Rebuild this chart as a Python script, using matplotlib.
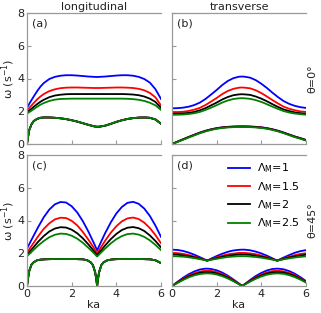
import matplotlib
matplotlib.use("Agg")
import matplotlib.pyplot as plt

# ---------------- data ----------------
labels = [r'$\Lambda_{\rm M}$=1', r'$\Lambda_{\rm M}$=1.5', r'$\Lambda_{\rm M}$=2', r'$\Lambda_{\rm M}$=2.5']
colors = ['#0000ff', '#ff0000', '#000000', '#008000']

# panel (a): longitudinal, theta = 0
ka_a = [0, 0.05, 0.1, 0.2, 0.3, 0.45, 0.6, 0.75, 1.0, 1.25, 1.5, 1.75, 2.0, 2.25, 2.5,
        2.75, 3.0, 3.14, 3.25, 3.5, 3.75, 4.0, 4.25, 4.5, 4.75, 5.0, 5.25, 5.5, 5.75, 6.0]
up_a_1 = [2.22, 2.33, 2.45, 2.68, 2.9, 3.22, 3.5, 3.72, 3.97, 4.1, 4.17, 4.2, 4.2, 4.18, 4.15,
          4.12, 4.1, 4.09, 4.1, 4.12, 4.15, 4.18, 4.2, 4.2, 4.17, 4.1, 3.97, 3.75, 3.35, 2.75]
up_a_15 = [2.05, 2.12, 2.2, 2.35, 2.5, 2.72, 2.9, 3.05, 3.23, 3.34, 3.41, 3.44, 3.45, 3.45, 3.44,
           3.43, 3.42, 3.42, 3.42, 3.43, 3.44, 3.45, 3.45, 3.44, 3.42, 3.37, 3.28, 3.12, 2.85, 2.35]
up_a_2 = [1.93, 1.98, 2.04, 2.15, 2.27, 2.43, 2.58, 2.7, 2.86, 2.96, 3.01, 3.04, 3.05, 3.05, 3.05,
          3.05, 3.05, 3.05, 3.05, 3.05, 3.05, 3.05, 3.05, 3.04, 3.02, 2.98, 2.9, 2.77, 2.57, 2.2]
up_a_25 = [1.86, 1.9, 1.95, 2.04, 2.13, 2.27, 2.4, 2.5, 2.63, 2.71, 2.75, 2.76, 2.77, 2.77, 2.77,
           2.77, 2.77, 2.77, 2.77, 2.77, 2.77, 2.77, 2.77, 2.76, 2.74, 2.7, 2.63, 2.52, 2.36, 2.08]
low_a = [0, 0.45, 0.85, 1.2, 1.4, 1.53, 1.6, 1.62, 1.62, 1.6, 1.57, 1.52, 1.45, 1.37, 1.27,
         1.17, 1.08, 1.05, 1.06, 1.12, 1.23, 1.35, 1.45, 1.53, 1.58, 1.61, 1.62, 1.6, 1.5, 1.24]

# panel (b): transverse, theta = 0
ka_b = [0, 0.25, 0.5, 0.75, 1.0, 1.25, 1.5, 1.75, 2.0, 2.25, 2.5, 2.75, 3.0, 3.14,
        3.25, 3.5, 3.75, 4.0, 4.25, 4.5, 4.75, 5.0, 5.25, 5.5, 5.75, 6.0]
up_b_1 = [2.18, 2.19, 2.22, 2.28, 2.38, 2.53, 2.75, 3.02, 3.3, 3.6, 3.85, 4.02, 4.11, 4.12,
          4.11, 4.05, 3.9, 3.68, 3.42, 3.13, 2.86, 2.62, 2.45, 2.33, 2.25, 2.2]
up_b_15 = [1.94, 1.95, 1.97, 2.02, 2.10, 2.21, 2.38, 2.59, 2.81, 3.05, 3.24, 3.37, 3.44, 3.45,
           3.44, 3.40, 3.28, 3.11, 2.90, 2.68, 2.47, 2.28, 2.15, 2.06, 1.99, 1.96]
up_b_2 = [1.84, 1.85, 1.87, 1.90, 1.96, 2.06, 2.19, 2.36, 2.53, 2.72, 2.87, 2.98, 3.03, 3.04,
          3.03, 3.0, 2.90, 2.77, 2.61, 2.43, 2.26, 2.11, 2.01, 1.93, 1.88, 1.85]
up_b_25 = [1.78, 1.79, 1.80, 1.83, 1.88, 1.96, 2.08, 2.22, 2.37, 2.53, 2.66, 2.75, 2.79, 2.80,
           2.79, 2.76, 2.68, 2.57, 2.43, 2.28, 2.14, 2.01, 1.92, 1.86, 1.82, 1.79]
low_b_1 = [0, 0.15, 0.29, 0.43, 0.57, 0.70, 0.81, 0.90, 0.97, 1.02, 1.05, 1.07, 1.08, 1.08,
           1.08, 1.07, 1.05, 1.02, 0.97, 0.90, 0.81, 0.70, 0.58, 0.46, 0.36, 0.25]
low_b_15 = [0, 0.15, 0.29, 0.43, 0.56, 0.69, 0.80, 0.89, 0.96, 1.01, 1.04, 1.06, 1.07, 1.07,
            1.07, 1.06, 1.04, 1.01, 0.96, 0.89, 0.80, 0.69, 0.57, 0.45, 0.35, 0.24]
low_b_2 = [0, 0.14, 0.28, 0.42, 0.55, 0.68, 0.79, 0.88, 0.95, 1.0, 1.03, 1.05, 1.06, 1.06,
           1.06, 1.05, 1.03, 1.0, 0.95, 0.88, 0.79, 0.68, 0.56, 0.44, 0.34, 0.23]
low_b_25 = [0, 0.13, 0.26, 0.40, 0.53, 0.66, 0.77, 0.86, 0.93, 0.98, 1.01, 1.03, 1.04, 1.04,
            1.04, 1.03, 1.01, 0.98, 0.93, 0.86, 0.77, 0.66, 0.54, 0.42, 0.32, 0.21]

# panel (c): longitudinal, theta = 45
ka_c = [0, 0.25, 0.5, 0.75, 1.0, 1.25, 1.5, 1.75, 2.0, 2.25, 2.5, 2.75, 3.0, 3.14,
        3.3, 3.5, 3.75, 4.0, 4.25, 4.5, 4.75, 5.0, 5.25, 5.5, 5.75, 6.0]
up_c_1 = [2.29, 2.95, 3.6, 4.2, 4.67, 4.99, 5.13, 5.1, 4.87, 4.49, 3.96, 3.32, 2.6, 2.18,
          2.65, 3.23, 3.88, 4.43, 4.83, 5.08, 5.14, 5.02, 4.73, 4.28, 3.69, 3.0]
up_c_15 = [2.05, 2.54, 3.04, 3.49, 3.83, 4.07, 4.17, 4.15, 3.98, 3.7, 3.3, 2.83, 2.31, 2.0,
           2.34, 2.77, 3.25, 3.65, 3.95, 4.13, 4.18, 4.09, 3.87, 3.54, 3.11, 2.61]
up_c_2 = [1.92, 2.3, 2.7, 3.05, 3.33, 3.51, 3.59, 3.57, 3.44, 3.22, 2.91, 2.54, 2.12, 1.88,
          2.15, 2.48, 2.86, 3.18, 3.42, 3.56, 3.6, 3.53, 3.36, 3.09, 2.75, 2.36]
up_c_25 = [1.82, 2.15, 2.47, 2.75, 2.98, 3.13, 3.2, 3.18, 3.07, 2.89, 2.64, 2.33, 2.0, 1.8,
           2.02, 2.29, 2.6, 2.86, 3.05, 3.17, 3.2, 3.14, 3.0, 2.79, 2.51, 2.19]
ka_c_low = [0, 0.05, 0.1, 0.2, 0.3, 0.45, 0.6, 0.8, 1.0, 1.5, 2.0, 2.5, 2.7, 2.85, 2.95,
            3.05, 3.1, 3.14, 3.18, 3.23, 3.33, 3.43, 3.6, 3.8, 4.0, 4.5, 5.0, 5.5, 5.75, 6.0]
low_c = [0, 0.5, 0.92, 1.3, 1.45, 1.57, 1.61, 1.63, 1.64, 1.65, 1.65, 1.63, 1.57, 1.45, 1.28,
         0.85, 0.45, 0.0, 0.45, 0.85, 1.28, 1.45, 1.57, 1.62, 1.64, 1.65, 1.65, 1.63, 1.57, 1.4]

# panel (d): transverse, theta = 45
ka_d = [0, 0.25, 0.5, 0.75, 1.0, 1.25, 1.5, 1.57, 1.75, 2.0, 2.25, 2.5, 2.75, 3.0, 3.14,
        3.25, 3.5, 3.75, 4.0, 4.25, 4.5, 4.71, 4.75, 5.0, 5.25, 5.5, 5.75, 6.0]
up_d_1 = [2.22, 2.2, 2.14, 2.04, 1.91, 1.76, 1.6, 1.55, 1.67, 1.83, 1.97, 2.09, 2.17, 2.21,
          2.22, 2.22, 2.18, 2.1, 1.99, 1.85, 1.69, 1.55, 1.58, 1.74, 1.89, 2.03, 2.13, 2.19]
up_d_15 = [2.02, 2.01, 1.96, 1.89, 1.80, 1.70, 1.58, 1.55, 1.63, 1.75, 1.85, 1.93, 1.98, 2.02,
           2.02, 2.02, 1.99, 1.94, 1.86, 1.76, 1.65, 1.55, 1.57, 1.68, 1.79, 1.88, 1.96, 2.0]
up_d_2 = [1.92, 1.91, 1.87, 1.82, 1.75, 1.67, 1.58, 1.55, 1.62, 1.70, 1.78, 1.85, 1.89, 1.92,
          1.92, 1.92, 1.90, 1.85, 1.79, 1.72, 1.63, 1.55, 1.56, 1.66, 1.74, 1.81, 1.87, 1.91]
up_d_25 = [1.82, 1.81, 1.79, 1.75, 1.70, 1.64, 1.57, 1.55, 1.60, 1.66, 1.72, 1.77, 1.80, 1.82,
           1.82, 1.82, 1.80, 1.77, 1.73, 1.67, 1.61, 1.55, 1.56, 1.63, 1.69, 1.74, 1.78, 1.81]
low_d_1 = [0, 0.26, 0.51, 0.72, 0.89, 1.01, 1.06, 1.06, 1.04, 0.96, 0.82, 0.63, 0.40, 0.15,
           0.0, 0.11, 0.37, 0.61, 0.80, 0.95, 1.04, 1.06, 1.06, 1.02, 0.91, 0.75, 0.54, 0.30]
low_d_15 = [0, 0.23, 0.45, 0.63, 0.78, 0.88, 0.93, 0.93, 0.92, 0.85, 0.72, 0.56, 0.36, 0.13,
            0.0, 0.10, 0.33, 0.53, 0.70, 0.83, 0.91, 0.93, 0.93, 0.89, 0.80, 0.66, 0.47, 0.26]
low_d_2 = [0, 0.21, 0.41, 0.58, 0.71, 0.81, 0.85, 0.85, 0.84, 0.77, 0.66, 0.51, 0.32, 0.12,
           0.0, 0.09, 0.30, 0.49, 0.64, 0.76, 0.83, 0.85, 0.85, 0.82, 0.73, 0.60, 0.43, 0.24]
low_d_25 = [0, 0.19, 0.37, 0.53, 0.65, 0.73, 0.77, 0.77, 0.76, 0.70, 0.60, 0.46, 0.29, 0.11,
            0.0, 0.08, 0.27, 0.44, 0.58, 0.69, 0.75, 0.77, 0.77, 0.74, 0.66, 0.54, 0.39, 0.21]

xticks = [0, 2, 4, 6]
yticks = [0, 2, 4, 6, 8]

# ---------------- figure ----------------
W, H = 321, 313
fig = plt.figure(figsize=(W / 100, H / 100), dpi=100)

def px_axes(l, r, t, b):
    return fig.add_axes([l / W, 1 - b / H, (r - l) / W, (b - t) / H])

ax_a = px_axes(27, 161, 13, 144)
ax_b = px_axes(172, 306, 13, 144)
ax_c = px_axes(27, 161, 155, 286)
ax_d = px_axes(172, 306, 155, 286)

spine_col = '#999999'
text_col = '#222222'
lw = 1.3

panels = [
    (ax_a, [(ka_a, up_a_1, ka_a, low_a), (ka_a, up_a_15, ka_a, low_a),
            (ka_a, up_a_2, ka_a, low_a), (ka_a, up_a_25, ka_a, low_a)], '(a)'),
    (ax_b, [(ka_b, up_b_1, ka_b, low_b_1), (ka_b, up_b_15, ka_b, low_b_15),
            (ka_b, up_b_2, ka_b, low_b_2), (ka_b, up_b_25, ka_b, low_b_25)], '(b)'),
    (ax_c, [(ka_c, up_c_1, ka_c_low, low_c), (ka_c, up_c_15, ka_c_low, low_c),
            (ka_c, up_c_2, ka_c_low, low_c), (ka_c, up_c_25, ka_c_low, low_c)], '(c)'),
    (ax_d, [(ka_d, up_d_1, ka_d, low_d_1), (ka_d, up_d_15, ka_d, low_d_15),
            (ka_d, up_d_2, ka_d, low_d_2), (ka_d, up_d_25, ka_d, low_d_25)], '(d)'),
]

for ax, series, tag in panels:
    for (xu, yu, xl, yl), c, lab in zip(series, colors, labels):
        ax.plot(xu, yu, color=c, lw=lw, label=lab)
        ax.plot(xl, yl, color=c, lw=lw)
    ax.set_xlim(0, 6)
    ax.set_ylim(0, 8)
    ax.set_xticks(xticks)
    ax.set_yticks(yticks)
    ax.spines['right'].set_visible(False)
    for s in ['left', 'bottom', 'top']:
        ax.spines[s].set_color(spine_col)
        ax.spines[s].set_linewidth(0.9)
    ax.tick_params(direction='in', length=3, width=0.8, color=spine_col,
                   labelsize=8, pad=2, labelcolor=text_col)
    ax.text(0.04, 0.96, tag, transform=ax.transAxes, ha='left', va='top',
            fontsize=8, color=text_col)

for ax in (ax_a, ax_b):
    ax.tick_params(labelbottom=False)
for ax in (ax_b, ax_d):
    ax.tick_params(labelleft=False)

ax_a.set_title('longitudinal', fontsize=8, pad=2, color=text_col)
ax_b.set_title('transverse', fontsize=8, pad=2, color=text_col)
for ax in (ax_a, ax_c):
    ax.set_ylabel('ω (s$^{-1}$)', fontsize=8, color=text_col, va='center')
    ax.yaxis.set_label_coords(-0.14, 0.5)
for ax in (ax_c, ax_d):
    ax.set_xlabel('ka', fontsize=8, labelpad=1, color=text_col)

ax_b.text(1.05, 0.5, 'θ=0°', transform=ax_b.transAxes, rotation=90,
          ha='center', va='center', fontsize=8, color=text_col)
ax_d.text(1.05, 0.5, 'θ=45°', transform=ax_d.transAxes, rotation=90,
          ha='center', va='center', fontsize=8, color=text_col)

ax_d.legend(loc='upper right', frameon=False, fontsize=8, handlelength=2.0,
            handletextpad=0.6, labelspacing=0.4, borderaxespad=0.2,
            bbox_to_anchor=(1.0, 1.0))

fig.savefig('out.png', dpi=100)
